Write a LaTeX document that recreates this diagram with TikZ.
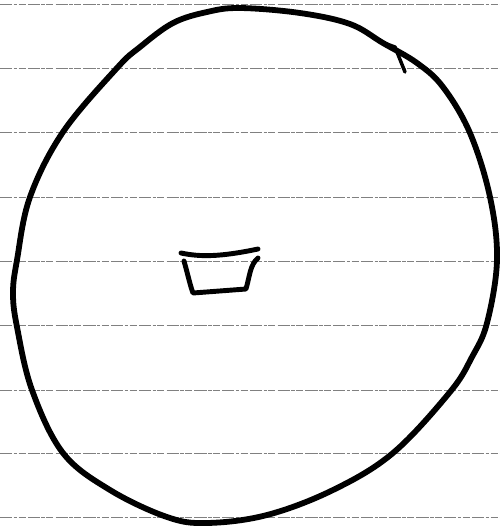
\documentclass[tikz,border=0pt]{standalone}
\begin{document}
\begin{tikzpicture}[x=0.02cm, y=-0.02cm,
		ruling/.style={black!50, line width=0.45pt, dash pattern=on 7pt off 0.8pt on 2pt off 0.8pt on 4pt off 1.2pt},
		ink/.style={black, line width=3.3pt, line cap=round, line join=round}]
	\useasboundingbox (0,0) rectangle (500,529);
	\fill[white] (0,0) rectangle (500,529);
	% ruled paper
	\foreach \y in {4, 68, 132, 197, 261, 325, 390, 453, 517} {
		\draw[ruling] (0,\y) -- (500,\y);
	}
	% the round outline
	\draw[ink] plot[smooth cycle, tension=0.6] coordinates {
		(240,8) (300,13) (350,24) (383,43) (417,63) (443,87) (470,133)
		(490,197) (497,260) (487,323) (472,357) (450,392) (393,453)
		(333,490) (267,515) (207,523) (167,517) (110,490) (63,453)
		(32,390) (17,327) (13,293) (17,260) (30,197) (63,132)
		(117,68) (140,47) (173,23) (207,12)};
	% small tick on the rim
	\draw[black, line width=2pt, line cap=round, line join=round] (381,42) -- (395,47) -- (405,72);
	% little box in the middle
	\draw[ink, line width=2.8pt] (181,253) .. controls (200,257) and (220,257) .. (258,249);
	\draw[ink, line width=2.8pt] (184,261) .. controls (188,275) and (190,285) .. (193,293)
		-- (246,289) .. controls (250,275) and (250,265) .. (258,258);
\end{tikzpicture}
\end{document}
